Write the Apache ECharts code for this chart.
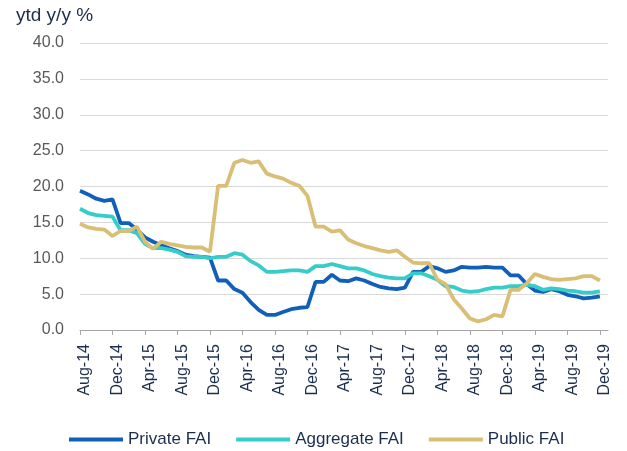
<!DOCTYPE html>
<html>
<head>
<meta charset="utf-8">
<script src="https://cdn.jsdelivr.net/npm/echarts@6/dist/echarts.min.js"></script>
<style>html,body{margin:0;padding:0;background:#fff}#c{width:627px;height:451px}</style>
</head>
<body>
<div id="c"></div>
<script>
// Monthly categories Aug-14 .. Dec-19, plus one empty month that the axis runs to
var categories = [
  'Aug-14','Sep-14','Oct-14','Nov-14','Dec-14',
  'Jan-15','Feb-15','Mar-15','Apr-15','May-15','Jun-15','Jul-15','Aug-15','Sep-15','Oct-15','Nov-15','Dec-15',
  'Jan-16','Feb-16','Mar-16','Apr-16','May-16','Jun-16','Jul-16','Aug-16','Sep-16','Oct-16','Nov-16','Dec-16',
  'Jan-17','Feb-17','Mar-17','Apr-17','May-17','Jun-17','Jul-17','Aug-17','Sep-17','Oct-17','Nov-17','Dec-17',
  'Jan-18','Feb-18','Mar-18','Apr-18','May-18','Jun-18','Jul-18','Aug-18','Sep-18','Oct-18','Nov-18','Dec-18',
  'Jan-19','Feb-19','Mar-19','Apr-19','May-19','Jun-19','Jul-19','Aug-19','Sep-19','Oct-19','Nov-19','Dec-19',
  'Jan-20'
];
var privateFAI = [
  19.4, 18.9, 18.3, 18.0, 18.2,
  14.9, 14.9, 14.0, 12.9, 12.3, 11.8, 11.4, 11.0, 10.5, 10.3, 10.2, 10.1,
  6.9, 6.9, 5.7, 5.2, 3.9, 2.8, 2.1, 2.1, 2.5, 2.9, 3.1, 3.2,
  6.7, 6.7, 7.7, 6.9, 6.8, 7.2, 6.9, 6.4, 6.0, 5.8, 5.7, 5.9,
  8.1, 8.1, 8.9, 8.6, 8.1, 8.3, 8.8, 8.7, 8.7, 8.8, 8.7, 8.7,
  7.6, 7.6, 6.4, 5.5, 5.3, 5.7, 5.4, 4.9, 4.7, 4.4, 4.5, 4.7
];
var aggregateFAI = [
  16.9, 16.3, 16.0, 15.9, 15.8,
  13.9, 13.9, 13.5, 12.0, 11.4, 11.4, 11.2, 10.9, 10.3, 10.2, 10.2, 10.0,
  10.2, 10.2, 10.7, 10.5, 9.6, 9.0, 8.1, 8.1, 8.2, 8.3, 8.3, 8.1,
  8.9, 8.9, 9.2, 8.9, 8.6, 8.6, 8.3, 7.8, 7.5, 7.3, 7.2, 7.2,
  7.9, 7.9, 7.5, 7.0, 6.1, 6.0, 5.5, 5.3, 5.4, 5.7, 5.9, 5.9,
  6.1, 6.1, 6.3, 6.1, 5.6, 5.8, 5.7, 5.5, 5.4, 5.2, 5.2, 5.4
];
var publicFAI = [
  14.8, 14.3, 14.1, 14.0, 13.1,
  13.8, 13.8, 14.4, 12.3, 11.3, 12.3, 12.0, 11.8, 11.6, 11.5, 11.5, 10.9,
  20.1, 20.1, 23.3, 23.7, 23.3, 23.5, 21.8, 21.4, 21.1, 20.5, 20.1, 18.7,
  14.4, 14.4, 13.7, 13.9, 12.6, 12.1, 11.7, 11.4, 11.1, 10.9, 11.1, 10.2,
  9.4, 9.3, 9.3, 7.0, 6.4, 4.3, 3.0, 1.6, 1.2, 1.5, 2.1, 1.9,
  5.6, 5.6, 6.5, 7.8, 7.4, 7.1, 7.0, 7.1, 7.2, 7.5, 7.5, 6.9
];
var yTicks = { min: 0, max: 40, interval: 5 };
var seriesNames = ['Private FAI', 'Aggregate FAI', 'Public FAI'];
var colors = ['#1060B8', '#36CCCA', '#D9BE76'];

var navy = '#1B2E4E';
var font = 'Liberation Sans, Arial, sans-serif';
var chart = echarts.init(document.getElementById('c'), null, { renderer: 'canvas' });
function mk(name, data, color) {
  return {
    name: name, type: 'line', data: data, symbol: 'none', smooth: false,
    lineStyle: { width: 3.8, color: color }, itemStyle: { color: color },
    animation: false
  };
}
chart.setOption({
  animation: false,
  title: {
    text: 'ytd y/y %', left: 11, top: 1,
    textStyle: { color: navy, fontSize: 19, fontWeight: 'normal', fontFamily: font }
  },
  grid: { left: 80, right: 19, top: 43, bottom: 121, containLabel: false },
  legend: {
    data: seriesNames, top: 426, left: 64, icon: 'rect', itemWidth: 54, itemHeight: 4,
    itemGap: 25,
    textStyle: { color: navy, fontSize: 17, fontFamily: font }
  },
  xAxis: {
    type: 'category', data: categories, boundaryGap: false,
    axisLine: { lineStyle: { color: '#A6A6A6', width: 1 } },
    axisTick: { show: true, interval: 3, length: 5, lineStyle: { color: '#A6A6A6' } },
    axisLabel: { interval: 3, rotate: 90, margin: 14, color: navy, fontSize: 16, fontFamily: font,
      verticalAlign: 'top', lineHeight: 10 },
    splitLine: { show: false }
  },
  yAxis: {
    type: 'value', min: yTicks.min, max: yTicks.max, interval: yTicks.interval,
    axisLine: { show: false }, axisTick: { show: false },
    axisLabel: { color: '#595959', fontSize: 16, fontFamily: font, margin: 16,
      formatter: function (v) { return v.toFixed(1); } },
    splitLine: { lineStyle: { color: '#D9D9D9', width: 1 } }
  },
  series: [
    mk(seriesNames[0], privateFAI, colors[0]),
    mk(seriesNames[1], aggregateFAI, colors[1]),
    mk(seriesNames[2], publicFAI, colors[2])
  ]
});
</script>
</body>
</html>
